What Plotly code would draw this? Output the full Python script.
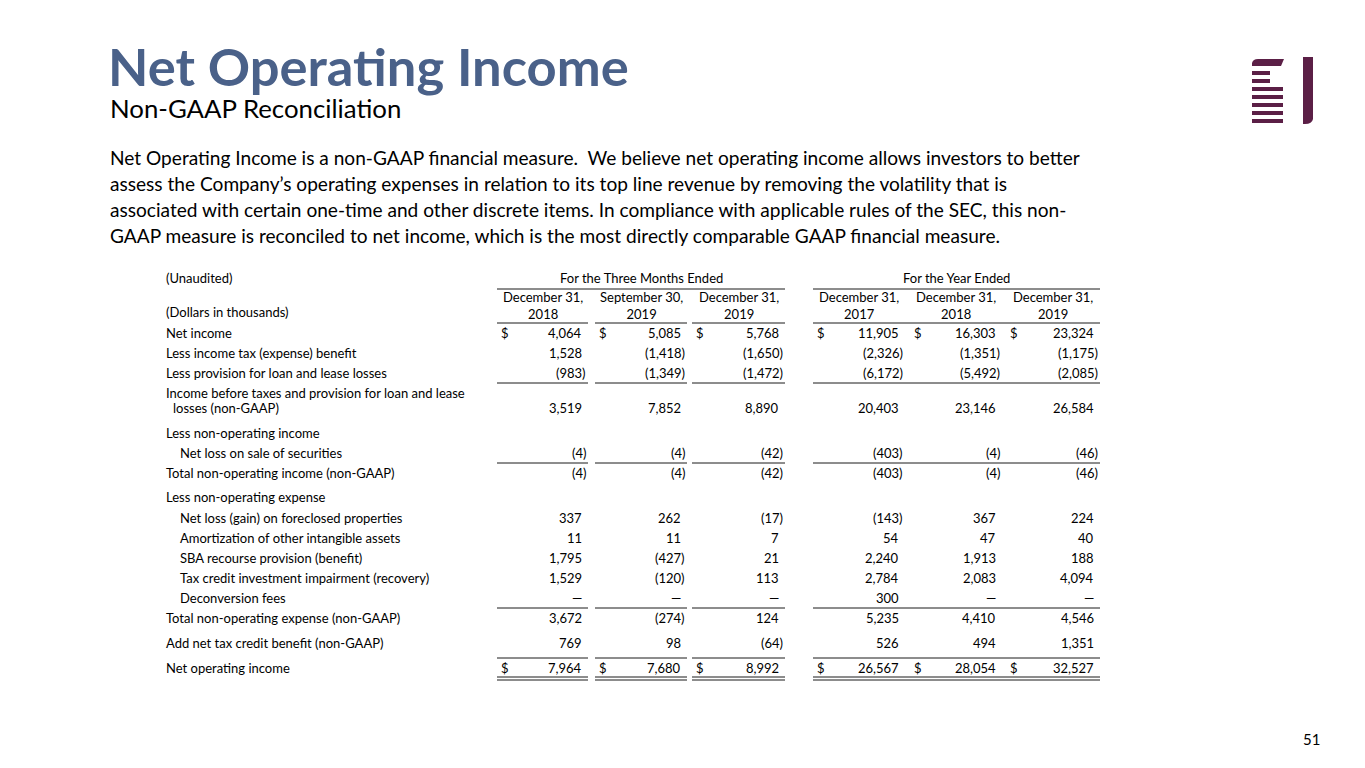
import plotly.graph_objects as go

# ---------------- DATA ----------------
title_text = "Net Operating Income"
subtitle_text = "Non-GAAP Reconciliation"
paragraph_lines = [
    "Net Operating Income is a non-GAAP financial measure.&nbsp; We believe net operating income allows investors to better",
    "assess the Company’s operating expenses in relation to its top line revenue by removing the volatility that is",
    "associated with certain one-time and other discrete items. In compliance with applicable rules of the SEC, this non-",
    "GAAP measure is reconciled to net income, which is the most directly comparable GAAP financial measure.",
]
group_headers = ["For the Three Months Ended", "For the Year Ended"]
column_headers = [
    "December 31,<br>2018", "September 30,<br>2019", "December 31,<br>2019",
    "December 31,<br>2017", "December 31,<br>2018", "December 31,<br>2019",
]
row_labels = [
    "Net income",
    "Less income tax (expense) benefit",
    "Less provision for loan and lease losses",
    "Income before taxes and provision for loan and lease|losses (non-GAAP)",
    "Less non-operating income",
    "Net loss on sale of securities",
    "Total non-operating income (non-GAAP)",
    "Less non-operating expense",
    "Net loss (gain) on foreclosed properties",
    "Amortization of other intangible assets",
    "SBA recourse provision (benefit)",
    "Tax credit investment impairment (recovery)",
    "Deconversion fees",
    "Total non-operating expense (non-GAAP)",
    "Add net tax credit benefit (non-GAAP)",
    "Net operating income",
]
row_indent = [0, 0, 0, 0, 0, 1, 0, 0, 1, 1, 1, 1, 1, 0, 0, 0]
q4_2018 = [4064, 1528, -983, 3519, None, -4, -4, None, 337, 11, 1795, 1529, 0, 3672, 769, 7964]
q3_2019 = [5085, -1418, -1349, 7852, None, -4, -4, None, 262, 11, -427, -120, 0, -274, 98, 7680]
q4_2019 = [5768, -1650, -1472, 8890, None, -42, -42, None, -17, 7, 21, 113, 0, 124, -64, 8992]
fy_2017 = [11905, -2326, -6172, 20403, None, -403, -403, None, -143, 54, 2240, 2784, 300, 5235, 526, 26567]
fy_2018 = [16303, -1351, -5492, 23146, None, -4, -4, None, 367, 47, 1913, 2083, 0, 4410, 494, 28054]
fy_2019 = [23324, -1175, -2085, 26584, None, -46, -46, None, 224, 40, 188, 4094, 0, 4546, 1351, 32527]
columns = [q4_2018, q3_2019, q4_2019, fy_2017, fy_2018, fy_2019]
dollar_rows = [0, 15]
page_number = "51"

# ---------------- LAYOUT / STYLE ----------------
W, H = 1365, 768
FONT = "Lato"
TITLE_COLOR = "#4a6189"
LOGO_COLOR = "#5b1f46"
TEXT_COLOR = "#000000"
RULE_COLOR = "#1a1a1a"
TS = 13  # table font size

label_x = 164
indent_px = 14
col_left = [497, 595, 692, 813, 910, 1006]
col_right = [588, 687, 785, 905, 1002, 1100]
num_right_pad = 4
group_span = [(0, 2), (3, 5)]
continuous_groups = [False, True]

row_y = [333, 353, 373, 408, 433, 453, 473, 497, 518, 538, 558, 578, 598, 618, 643, 668]
row_rule_y = {2: 383, 5: 463, 12: 608, 14: 658}
dbl_rule_y = (677, 680)
group_y, group_rule_y = 278, 289
hdr_y, hdr_rule_y = 305, 323

fig = go.Figure()
ann = []
shapes = []


def A(x, y, text, size, xanchor="left", color=TEXT_COLOR, bold=False, align="left"):
    t = f"<b>{text}</b>" if bold else text
    ann.append(dict(x=x, y=y, xref="x", yref="y", text=t, showarrow=False,
                    xanchor=xanchor, yanchor="middle", align=align,
                    font=dict(family=FONT, size=size, color=color)))


def L(x0, x1, y, w=1.0):
    shapes.append(dict(type="line", xref="x", yref="y", x0=x0, x1=x1, y0=y, y1=y,
                       line=dict(color=RULE_COLOR, width=w)))


# Title block
A(106, 65, title_text, 52.5, color=TITLE_COLOR, bold=True)
A(108, 108, subtitle_text, 25.8)
for i, line in enumerate(paragraph_lines):
    A(108, 157 + i * 26.3, line, 19.1)

# Table headings
A(label_x, group_y, "(Unaudited)", TS)
A(label_x, 312, "(Dollars in thousands)", TS)
for g, (a, b) in enumerate(group_span):
    A((col_left[a] + col_right[b]) / 2, group_y, group_headers[g], TS, xanchor="center")
    L(col_left[a], col_right[b], group_rule_y)
for c, hdr in enumerate(column_headers):
    A((col_left[c] + col_right[c]) / 2, hdr_y, hdr, TS, xanchor="center", align="center")


def rules_at(y, w=1.0):
    for g, (a, b) in enumerate(group_span):
        if continuous_groups[g]:
            L(col_left[a], col_right[b], y, w)
        else:
            for c in range(a, b + 1):
                L(col_left[c], col_right[c], y, w)


rules_at(hdr_rule_y)


def fmt(v):
    if v == 0:
        return "—", -4
    if v < 0:
        return f"({abs(v):,})", 0
    return f"{v:,}", -num_right_pad


for r, label in enumerate(row_labels):
    y = row_y[r]
    x = label_x + indent_px * row_indent[r]
    if "|" in label:
        l1, l2 = label.split("|")
        A(x, y - 15, l1, TS)
        A(x + 7, y, l2, TS)
    else:
        A(x, y, label, TS)
    for c, col in enumerate(columns):
        v = col[r]
        if v is None:
            continue
        s, off = fmt(v)
        A(col_right[c] + off, y, s, TS, xanchor="right")
        if r in dollar_rows:
            A(col_left[c] + 2, y, "$", TS)
    if r in row_rule_y:
        rules_at(row_rule_y[r])

for y in dbl_rule_y:
    rules_at(y)

# page number
A(1322, 739, page_number, 15, xanchor="right")

# Logo (decorative)
logo_bars = [(1252, 1270, 71, 75), (1252, 1270, 79, 83), (1252, 1283, 87, 91),
             (1252, 1283, 95, 99), (1252, 1283, 103, 107), (1252, 1283, 111, 115),
             (1252, 1283, 119, 123)]
for x0, x1, y0, y1 in logo_bars:
    shapes.append(dict(type="rect", xref="x", yref="y", x0=x0, x1=x1, y0=y0, y1=y1,
                       fillcolor=LOGO_COLOR, line=dict(width=0)))
shapes.append(dict(type="path", xref="x", yref="y",
                   path="M 1252 66 L 1252 63 Q 1253 59 1258 59 L 1284 59 L 1281 66 Z",
                   fillcolor=LOGO_COLOR, line=dict(width=0)))
shapes.append(dict(type="path", xref="x", yref="y",
                   path="M 1303 57 L 1313 57 L 1313 119 Q 1312 124 1305 124 L 1303 124 Z",
                   fillcolor=LOGO_COLOR, line=dict(width=0)))

fig.update_layout(
    width=W, height=H, autosize=False,
    margin=dict(l=0, r=0, t=0, b=0),
    paper_bgcolor="white", plot_bgcolor="white",
    xaxis=dict(range=[0, W], visible=False, fixedrange=True),
    yaxis=dict(range=[H, 0], visible=False, fixedrange=True),
    annotations=ann, shapes=shapes, showlegend=False,
)

fig.write_html("out.html", config={"displayModeBar": False},
               post_script="document.body.style.margin='0';document.body.style.overflow='hidden';")
